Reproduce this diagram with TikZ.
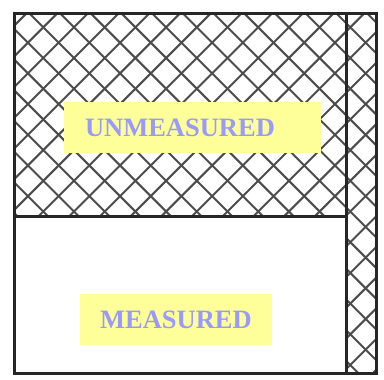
\documentclass[tikz,border=0pt]{standalone}
\usepackage{fontspec}
\setmainfont{Liberation Serif}
\usepackage{xcolor}
\usepackage{tikz}

\definecolor{tagyellow}{HTML}{FFFF99}
\definecolor{tagblue}{HTML}{9999FF}

\begin{document}
\begin{tikzpicture}[
    x=1pt, y=-1pt,
    wall/.style={draw=black!85, line width=3pt},
    hatchline/.style={draw=black!70, line width=2pt},
    tag/.style={rectangle, fill=tagyellow, text=tagblue, inner sep=0pt,
      minimum height=51pt, font=\fontsize{26.5}{30}\selectfont\bfseries}
  ]
  \useasboundingbox (0,0) rectangle (384,380);
  \coordinate (nw) at (14,13);
  \coordinate (se) at (376,373);
  \coordinate (cut) at (346,216);

  % cross-hatching on the top band and the right strip
  \begin{scope}
    \clip (nw) rectangle (cut) (nw -| cut) rectangle (se);
    \foreach \k in {-13,...,25} {
      \draw[hatchline] (16+30.7*\k,0) -- ++(400,400);
      \draw[hatchline] (70.6+30.7*\k,0) -- ++(-400,400);
    }
  \end{scope}

  \draw[wall] (nw) rectangle (se);
  \draw[wall] (nw |- cut) -- (cut);
  \draw[wall] (nw -| cut) -- (se -| cut);

  \node[tag, text width=215pt, inner xsep=21pt, align=left] (unmeas) at (192.5,127.5) {UNMEASURED};
  \node[tag, minimum width=192pt] (meas) at (176,319.5) {MEASURED};
\end{tikzpicture}
\end{document}
